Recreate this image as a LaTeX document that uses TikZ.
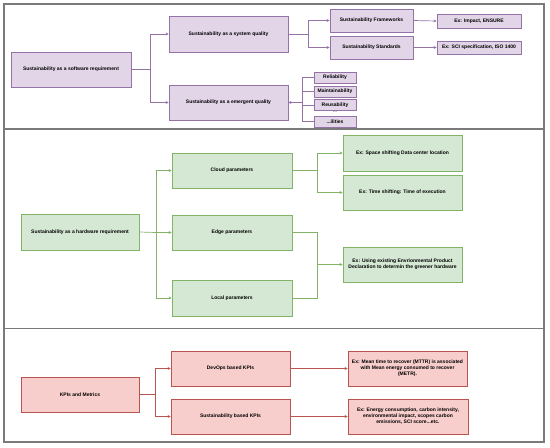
\documentclass[tikz,border=0pt]{standalone}
\usepackage{fontspec}
\setmainfont{Liberation Sans}
\usetikzlibrary{arrows.meta}
\definecolor{swfill}{HTML}{E1D5E7}
\definecolor{swline}{HTML}{9673A6}
\definecolor{hwfill}{HTML}{D5E8D4}
\definecolor{hwline}{HTML}{82B366}
\definecolor{kpifill}{HTML}{F8CECC}
\definecolor{kpiline}{HTML}{B85450}
\definecolor{framecol}{HTML}{7A7A7A}
\newcommand{\ilitext}{...ilities}
\tikzset{
  box/.style={draw,line width=0.8pt,inner sep=1pt,align=center,
    font=\fontsize{5}{6}\selectfont\bfseries},
  swbox/.style={box,draw=swline,fill=swfill},
  hwbox/.style={box,draw=hwline,fill=hwfill},
  kpibox/.style={box,draw=kpiline,fill=kpifill},
  tip/.style={-{Stealth[length=3pt,width=3pt]}},
  swedge/.style={draw=swline,line width=0.7pt},
  hwedge/.style={draw=hwline,line width=0.7pt},
  kpiedge/.style={draw=kpiline,line width=0.7pt}
}
\begin{document}
\begin{tikzpicture}[x=1pt,y=-1pt]
      \useasboundingbox (0,0) rectangle (550,448);
      % panels
      \draw[framecol,line width=1.2pt](4,4)rectangle(544,129);
      \draw[framecol,line width=1.2pt](4,129)rectangle(544,328.5);
      \draw[framecol,line width=1.2pt](4,328.5)rectangle(544,442);

      % software
      \begin{scope}
        \node[swbox,minimum width=120pt,minimum height=35pt](sw) at (71,69.5){Sustainability as a software requirement};
        \node[swbox,minimum width=119pt,minimum height=36pt](sys) at (228.5,34){Sustainability as a system quality};
        \node[swbox,minimum width=119pt,minimum height=35pt](emg) at (228.5,102.5){Sustainability as a emergent quality};
        \node[swbox,minimum width=83pt,minimum height=23pt](fw) at (371.5,20.5){Sustainability Frameworks};
        \node[swbox,minimum width=83pt,minimum height=23pt](std) at (371.5,47.5){Sustainability Standards};
        \node[swbox,minimum width=84pt,minimum height=14pt](exfw) at (479,21){Ex: Impact, ENSURE};
        \node[swbox,minimum width=84pt,minimum height=13pt](exstd) at (479,47.5){Ex: SCI specification, ISO 1400};
        \coordinate (swj) at (150,69.5);
        \coordinate (sysj) at (308,34);
        \coordinate (emgj) at (302,102.5);
        \draw[swedge](sw.east)--(swj);
        \draw[swedge,tip](swj)|-(sys.west);
        \draw[swedge,tip](swj)|-(emg.west);
        \draw[swedge](sys.east)--(sysj);
        \draw[swedge,tip](sysj)|-(fw.west);
        \draw[swedge,tip](sysj)|-(std.west);
        \draw[swedge,tip](fw.east)--(exfw.west);
        \draw[swedge,tip](std.east)--(exstd.west);
        \foreach \n/\y/\t in {
          rel/77.5/Reliability,
          mai/91.5/Maintainability,
          reu/105/Reusability,
          ili/121.5/\ilitext
          }{
            \node[swbox,minimum width=42pt,minimum height=11pt](\n) at (335,\y){\t};
            \draw[swedge](\n.west)--(emgj|-\n.west);
          }
        \node[font=\fontsize{5}{5}\selectfont\bfseries,text=gray,inner sep=0pt](dots) at (335,112.5){...};
        \draw[swedge](emgj|-rel.west)--(emgj|-ili.west);
        \draw[swedge,tip](emgj)--(emg.east);
      \end{scope}

      % hardware
      \begin{scope}
        \node[hwbox,minimum width=118pt,minimum height=36pt](hw) at (80,232){Sustainability as a hardware requirement};
        \node[hwbox,minimum width=120pt,minimum height=35pt](cloud) at (232,170.5){Cloud parameters};
        \node[hwbox,minimum width=120pt,minimum height=35pt](edge) at (232,232.5){Edge parameters};
        \node[hwbox,minimum width=120pt,minimum height=36pt](local) at (232,298){Local parameters};
        \node[hwbox,minimum width=119pt,minimum height=36pt](exspace) at (402.5,153){Ex: Space shifting Data center location};
        \node[hwbox,minimum width=119pt,minimum height=35pt](extime) at (402.5,192.5){Ex: Time shifting: Time of execution};
        \node[hwbox,minimum width=119pt,minimum height=35pt](exepd) at (402.5,264.5){Ex: Using existing Envrionmental Product\\Declaration to determin the greener hardware};
        \coordinate (hwj) at (156,232.5);
        \coordinate (cloudj) at (317,170.5);
        \coordinate (elj) at (317,264.5);
        \draw[hwedge](hw.east)--(hwj);
        \draw[hwedge,tip](hwj)|-(cloud.west);
        \draw[hwedge,tip](hwj)--(edge.west);
        \draw[hwedge,tip](hwj)|-(local.west);
        \draw[hwedge](cloud.east)--(cloudj);
        \draw[hwedge,tip](cloudj)|-(exspace.west);
        \draw[hwedge,tip](cloudj)|-(extime.west);
        \draw[hwedge](edge.east)-|(elj);
        \draw[hwedge](local.east)-|(elj);
        \draw[hwedge,tip](elj)--(exepd.west);
      \end{scope}

      % kpis
      \begin{scope}
        \node[kpibox,minimum width=118pt,minimum height=35pt](kpi) at (80,394.5){KPIs and Metrics};
        \node[kpibox,minimum width=119pt,minimum height=35pt](dev) at (230.5,368.5){DevOps based KPIs};
        \node[kpibox,minimum width=119pt,minimum height=35pt](skpi) at (230.5,416.5){Sustainability based KPIs};
        \node[kpibox,minimum width=119pt,minimum height=35pt](exmttr) at (407.5,368.5){Ex: Mean time to recover (MTTR) is associated\\with Mean energy consumed to recover\\(METR).};
        \node[kpibox,minimum width=120pt,minimum height=35pt](exen) at (408,416.5){Ex: Energy consumption, carbon intensity,\\environmental impact, scopes carbon\\emissions, SCI score...etc.};
        \coordinate (kpij) at (155,394.5);
        \draw[kpiedge](kpi.east)--(kpij);
        \draw[kpiedge,tip](kpij)|-(dev.west);
        \draw[kpiedge,tip](kpij)|-(skpi.west);
        \draw[kpiedge,tip](dev.east)--(exmttr.west);
        \draw[kpiedge,tip](skpi.east)--(exen.west);
      \end{scope}
    \end{tikzpicture}
\end{document}
